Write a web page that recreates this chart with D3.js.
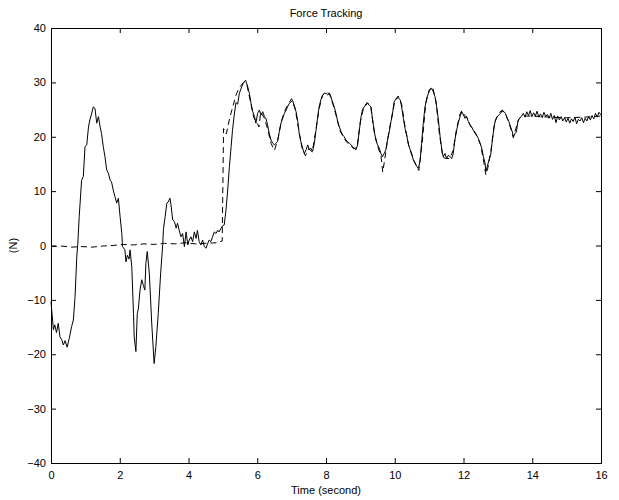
<!DOCTYPE html>
<html><head><meta charset="utf-8">
<script src="https://cdn.jsdelivr.net/npm/d3@7"></script>
<style>
body{margin:0;background:#fff;}
svg{display:block;font-family:"Liberation Sans",Arial,Helvetica,sans-serif;}
</style></head>
<body><svg id="c" width="619" height="500"></svg>
<script>
const xTicks = [0,2,4,6,8,10,12,14,16];
const yTicks = [-40,-30,-20,-10,0,10,20,30,40];
const titleText = "Force Tracking";
const xLabel = "Time (second)";
const yLabel = "(N)";

// measured force (solid): [time, force]
const measured = [
[0,-10.3],[0.07,-15.5],[0.11,-14.6],[0.16,-16],[0.21,-14.3],[0.26,-16.8],[0.31,-17.3],[0.36,-18.3],[0.41,-17.5],[0.47,-18.7],[0.53,-17.1],[0.60,-14.9],[0.65,-13.7],[0.70,-9.4],[0.75,-2.1],[0.78,0.4],[0.82,5.3],[0.89,12],[0.94,12.7],[0.99,18.2],[1.04,18.5],[1.09,21.8],[1.13,23.1],[1.18,24.2],[1.23,25.5],[1.28,25.2],[1.33,22.5],[1.38,23.7],[1.43,21.8],[1.47,20.6],[1.52,18.2],[1.57,16.3],[1.62,13.9],[1.67,13.3],[1.72,12],[1.76,11.7],[1.81,10.2],[1.86,9.0],[1.91,7.8],[1.96,8.7],[2.01,5.3],[2.06,2.2],[2.08,-0.2],[2.15,-0.8],[2.18,-3.0],[2.22,-1.8],[2.27,-2.5],[2.30,-0.8],[2.35,-3.9],[2.40,-12.5],[2.42,-16.8],[2.47,-19.5],[2.51,-12.5],[2.54,-11.7],[2.59,-8.2],[2.64,-6.3],[2.69,-7.4],[2.73,-8.2],[2.76,-3.3],[2.80,-1.1],[2.86,-5.1],[2.93,-14.3],[3.00,-21.7],[3.05,-18.6],[3.12,-12.5],[3.19,-5.1],[3.25,0.1],[3.27,2.9],[3.32,5.3],[3.37,7.8],[3.41,8.0],[3.46,8.7],[3.49,7.5],[3.54,4.7],[3.59,4.4],[3.64,3.2],[3.68,4.1],[3.73,2.8],[3.78,1.6],[3.83,2.2],[3.88,-0.2],[3.93,2.5],[3.98,0.1],[4.02,1.0],[4.07,1.6],[4.12,0.7],[4.17,2.5],[4.22,1.3],[4.26,2.8],[4.31,0.7],[4.36,0.1],[4.41,1.0],[4.46,-0.2],[4.51,-0.5],[4.56,0.4],[4.60,1.0],[4.65,0.7],[4.70,1.6],[4.75,2.5],[4.80,2.2],[4.85,2.8],[4.89,2.5],[4.94,3.1],[4.99,3.6],[5.04,3.8],[5.09,6.5],[5.14,10.2],[5.19,14.5],[5.24,18.2],[5.28,21.2],[5.33,24],[5.38,26.3],[5.43,26.0],[5.48,28.0],[5.55,29.2],[5.59,29.8],[5.66,30.4],[5.71,29.5],[5.77,28.0],[5.82,26.1],[5.87,24.6],[5.92,23.7],[5.96,22.5],[6.01,24.3],[6.06,24.9],[6.11,24],[6.16,24.6],[6.21,23.7],[6.25,23.4],[6.30,22.2],[6.35,20.6],[6.40,19.4],[6.45,18.8],[6.50,18.5],[6.54,18.8],[6.59,19.1],[6.64,20.9],[6.69,22.5],[6.74,23.4],[6.79,24.3],[6.84,24.9],[6.88,25.5],[6.93,26.1],[6.98,26.4],[7.03,26.7],[7.08,25.5],[7.13,24.6],[7.18,22.8],[7.22,20.6],[7.27,19.1],[7.32,17.9],[7.37,16.9],[7.42,17.6],[7.47,18.5],[7.51,17.6],[7.56,17.9],[7.61,17.3],[7.66,18.8],[7.71,21.2],[7.76,23.7],[7.80,25.5],[7.85,26.8],[7.90,27.7],[7.95,28.0],[8.00,28.0],[8.05,27.7],[8.10,28.0],[8.14,27.4],[8.19,26.4],[8.24,25.5],[8.29,24.3],[8.34,22.8],[8.39,21.8],[8.44,20.9],[8.49,20.3],[8.53,20],[8.58,19.4],[8.63,19.1],[8.68,18.8],[8.73,18.5],[8.78,18.2],[8.82,17.9],[8.87,17.6],[8.92,18.5],[8.97,21.2],[9.02,23.7],[9.06,24.9],[9.11,25.5],[9.16,25.8],[9.21,26.1],[9.26,25.8],[9.31,25.5],[9.35,23.4],[9.40,21.2],[9.45,19.4],[9.50,18.5],[9.55,17.9],[9.60,16.9],[9.64,16.3],[9.69,16.9],[9.74,17.6],[9.79,19.4],[9.84,20.9],[9.89,22.8],[9.93,24.0],[9.98,26.4],[10.05,27.1],[10.11,27.1],[10.16,26.8],[10.20,25.5],[10.25,23.4],[10.30,21.5],[10.35,20.2],[10.40,18.5],[10.45,17.6],[10.50,16.8],[10.54,15.7],[10.59,15.2],[10.64,14.5],[10.69,14.2],[10.74,15.7],[10.78,18.8],[10.83,22.5],[10.88,25.5],[10.93,27.1],[10.98,28.0],[11.02,28.6],[11.07,28.9],[11.12,28.3],[11.17,27.4],[11.22,25.5],[11.27,23.1],[11.32,20],[11.37,17.6],[11.41,16.3],[11.46,16.9],[11.51,16],[11.56,16.6],[11.61,16.3],[11.66,16],[11.70,16.9],[11.75,19.4],[11.80,21.2],[11.85,22.6],[11.90,23.7],[11.95,24.6],[12.00,24.0],[12.04,23.4],[12.09,23.7],[12.14,22.8],[12.19,22.2],[12.24,21.8],[12.28,21.2],[12.33,20.9],[12.38,20.3],[12.43,19.7],[12.48,18.8],[12.53,17.9],[12.58,16.3],[12.63,15.1],[12.65,13.6],[12.69,14.5],[12.74,15.7],[12.79,16.6],[12.84,19.4],[12.89,21.8],[12.93,23.1],[12.98,23.7],[13.03,24],[13.08,24.3],[13.13,24.9],[13.18,24.6],[13.22,24.3],[13.27,23.4],[13.32,22.8],[13.37,21.8],[13.42,20.9],[13.45,20],[13.50,20.6],[13.54,20.9],[13.58,22.8],[13.63,23.4],[13.68,23.7],
[13.74,24.3],[13.79,23.6],[13.84,24.6],[13.89,23.9],[13.94,24.8],[13.99,23.7],[14.04,24.4],[14.09,23.8],[14.14,24.7],[14.19,23.6],[14.24,24.2],[14.29,23.5],[14.34,24.5],[14.39,23.7],[14.44,24.1],[14.49,23.4],[14.54,24.3],[14.59,23.2],[14.64,23.9],[14.69,22.6],[14.74,23.8],[14.79,23.1],[14.84,23.7],[14.89,22.9],[14.94,23.5],[14.99,22.7],[15.04,23.4],[15.09,22.5],[15.14,23.3],[15.19,22.8],[15.24,23.6],[15.29,22.4],[15.34,23.2],[15.39,22.9],[15.44,23.5],[15.49,22.6],[15.54,23.4],[15.59,22.9],[15.64,23.7],[15.69,23.1],[15.74,23.9],[15.79,23.3],[15.84,24.3],[15.89,23.6],[15.94,24.5],[16.0,24.0]
];

// desired force (dashed): [time, force]
const desired = [
[0,-0.2],[0.3,-0.1],[0.6,-0.3],[0.9,-0.2],[1.2,-0.3],[1.5,-0.1],[1.8,0.0],[2.1,0.2],[2.4,0.1],[2.7,0.3],[3.0,0.2],[3.3,0.4],[3.6,0.3],[3.9,0.5],[4.2,0.3],[4.5,0.4],[4.8,0.5],[4.98,0.8],[5.02,21.5],[5.1,20.5],[5.2,23.5],[5.3,25.8],[5.4,28],[5.5,29.2],[5.6,30],[5.7,29.5],[5.8,26.5],[5.9,23.5],[6.0,22.5],[6.05,21.8],[6.1,24.5],[6.2,23.5],[6.3,21.5],[6.4,18.8],[6.5,17.5],[6.6,19.5],[6.7,22.8],[6.8,24.8],[6.9,26.0],[7.0,27.0],[7.1,25.3],[7.2,21.5],[7.3,18.0],[7.4,16.5],[7.5,17.8],[7.6,17.2],[7.7,21.0],[7.8,25.2],[7.9,27.6],[8.0,28.2],[8.1,27.9],[8.2,26.0],[8.3,23.8],[8.4,21.2],[8.5,20.0],[8.6,19.0],[8.7,18.5],[8.8,17.8],[8.9,18.0],[9.0,22.8],[9.1,25.5],[9.2,26.3],[9.3,25.6],[9.4,21.0],[9.5,18.3],[9.6,16.5],[9.65,13.5],[9.7,15.5],[9.8,19.8],[9.9,23.3],[10.0,26.5],[10.1,27.5],[10.2,26.0],[10.3,21.8],[10.4,18.6],[10.5,16.5],[10.6,15.0],[10.7,13.8],[10.8,19.0],[10.9,26.0],[11.0,28.6],[11.1,29.2],[11.2,26.5],[11.3,20.5],[11.4,16.2],[11.5,16.0],[11.6,16.0],[11.7,17.5],[11.8,21.5],[11.9,24.2],[11.95,24.8],[12.0,24.2],[12.1,23.5],[12.2,22.0],[12.3,21.0],[12.4,20.0],[12.5,18.5],[12.6,15.0],[12.65,13.0],[12.7,14.0],[12.8,17.5],[12.9,22.5],[13.0,24.0],[13.1,24.8],[13.2,24.5],[13.3,23.0],[13.4,21.0],[13.45,19.8],[13.5,21.0],[13.6,23.2],[13.7,23.8],[14.0,23.8],[14.5,23.6],[15.0,23.5],[15.5,23.6],[16.0,23.8]
];

const W = 619, H = 500;
const m = {left:51, right:18, top:28, bottom:37};
const svg = d3.select("#c");
const x = d3.scaleLinear().domain([0,16]).range([m.left, W - m.right]);
const y = d3.scaleLinear().domain([-40,40]).range([H - m.bottom, m.top]);

const fs = "11px";
// axes with inward ticks
const gB = svg.append("g").attr("transform",`translate(0,${y(-40)})`)
  .call(d3.axisBottom(x).tickValues(xTicks).tickSize(-5).tickPadding(8).tickFormat(d=>String(d)));
const gT = svg.append("g").attr("transform",`translate(0,${y(40)})`)
  .call(d3.axisTop(x).tickValues(xTicks).tickSize(-5).tickFormat(""));
const gL = svg.append("g").attr("transform",`translate(${x(0)},0)`)
  .call(d3.axisLeft(y).tickValues(yTicks).tickSize(-5).tickPadding(5).tickFormat(d=>String(d).replace("-","\u2212")));
const gR = svg.append("g").attr("transform",`translate(${x(16)},0)`)
  .call(d3.axisRight(y).tickValues(yTicks).tickSize(-5).tickFormat(""));
[gB,gT,gL,gR].forEach(g=>{
  g.select(".domain").attr("stroke","#000").attr("stroke-width",1);
  g.selectAll(".tick line").attr("stroke","#000");
  g.selectAll("text").attr("font-size",fs).attr("fill","#000").attr("font-family","Liberation Sans, Arial, sans-serif");
});
// remove end ticks overlapping box edges
gT.selectAll(".tick").filter(d=>d===0||d===16).remove();
gB.selectAll(".tick line").filter(d=>d===0||d===16).remove();
gL.selectAll(".tick line").filter(d=>d===-40||d===40).remove();
gR.selectAll(".tick").filter(d=>d===-40||d===40).remove();

const line = d3.line().x(d=>x(d[0])).y(d=>y(d[1]));
svg.append("path").datum(desired).attr("d",line).attr("fill","none")
  .attr("stroke","#000").attr("stroke-width",1).attr("stroke-dasharray","6,4");
svg.append("path").datum(measured).attr("d",line).attr("fill","none")
  .attr("stroke","#000").attr("stroke-width",1);

svg.append("text").attr("x",(x(0)+x(16))/2).attr("y",17).attr("text-anchor","middle")
  .attr("font-size",fs).text(titleText);
svg.append("text").attr("x",(x(0)+x(16))/2).attr("y",494).attr("text-anchor","middle")
  .attr("font-size",fs).text(xLabel);
svg.append("text").attr("transform",`translate(17,${y(0)}) rotate(-90)`).attr("text-anchor","middle")
  .attr("font-size",fs).text(yLabel);
</script></body></html>
